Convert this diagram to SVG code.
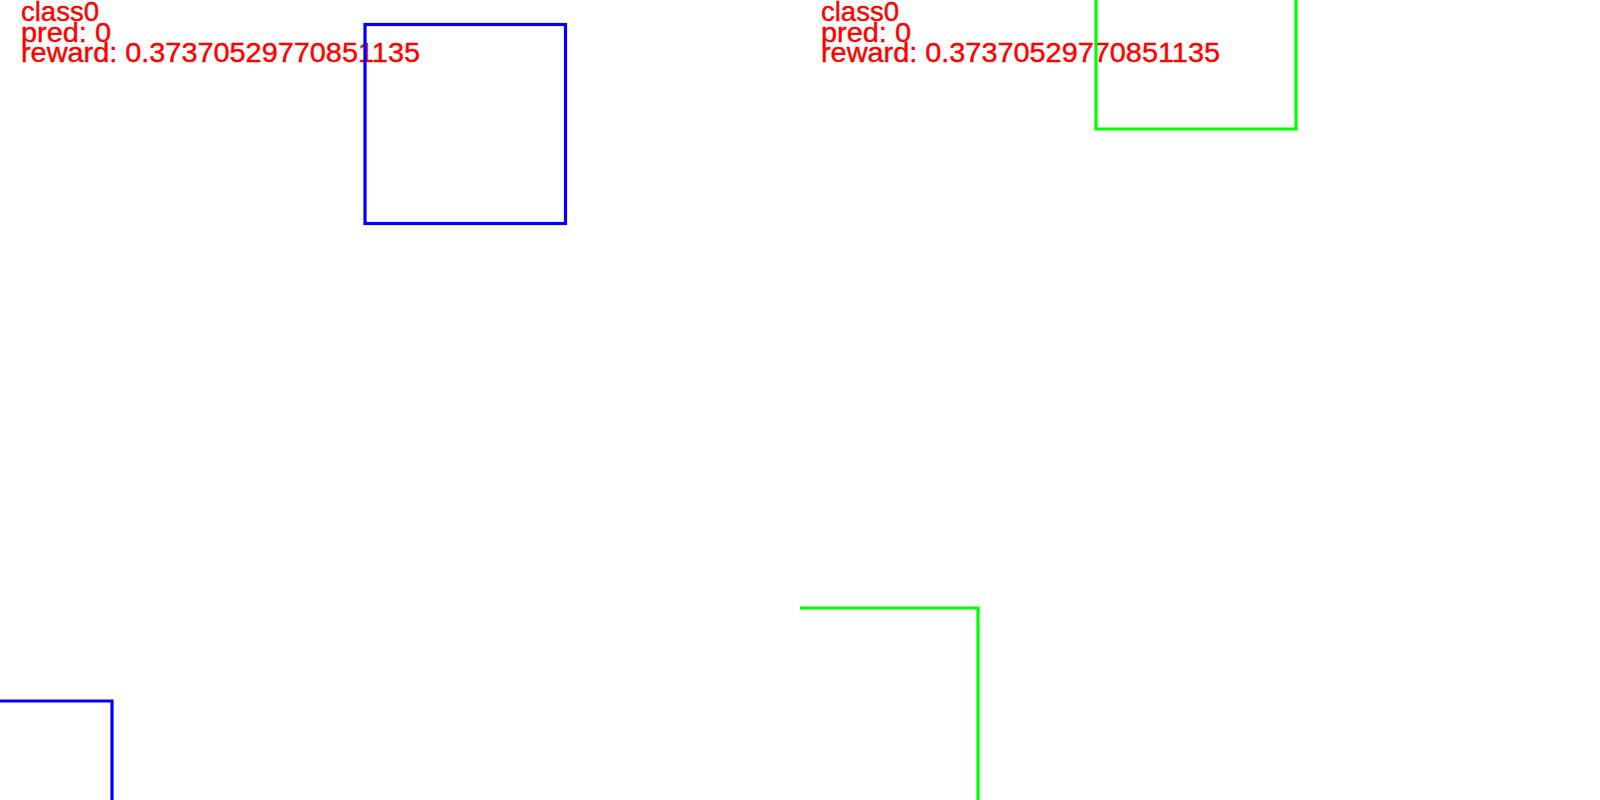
<svg xmlns="http://www.w3.org/2000/svg" width="1600" height="800" viewBox="0 0 1600 800">
<style>
.lbl{font-family:"Liberation Sans",Arial,sans-serif;font-size:27px;fill:#ff0000;stroke:#ff0000;stroke-width:0.4;}
.blue{fill:none;stroke:#0000ff;stroke-width:3.2;}
.green{fill:none;stroke:#00ff00;stroke-width:3.2;}
</style>
<rect x="0" y="0" width="1600" height="800" fill="#ffffff"/>
<g id="panel-left">
  <g id="text-left">
    <text class="lbl" x="21" y="21" textLength="78" lengthAdjust="spacingAndGlyphs">class0</text>
    <text class="lbl" x="21" y="41.5" textLength="90" lengthAdjust="spacingAndGlyphs">pred: 0</text>
    <text class="lbl" x="21" y="62" textLength="399" lengthAdjust="spacingAndGlyphs">reward: 0.37370529770851135</text>
  </g>
  <g id="box-left-1"><rect class="blue" x="365" y="24.5" width="200.5" height="199"/></g>
  <g id="box-left-2"><polyline class="blue" points="0,701 112,701 112,801"/></g>
</g>
<g id="panel-right">
  <g id="text-right">
    <text class="lbl" x="821" y="21" textLength="78" lengthAdjust="spacingAndGlyphs">class0</text>
    <text class="lbl" x="821" y="41.5" textLength="90" lengthAdjust="spacingAndGlyphs">pred: 0</text>
    <text class="lbl" x="821" y="62" textLength="399" lengthAdjust="spacingAndGlyphs">reward: 0.37370529770851135</text>
  </g>
  <g id="box-right-1"><polyline class="green" points="1096,-2 1096,129 1296,129 1296,-2"/></g>
  <g id="box-right-2"><polyline class="green" points="800,608 978,608 978,801"/></g>
</g>
<g id="connectors"></g>
</svg>
